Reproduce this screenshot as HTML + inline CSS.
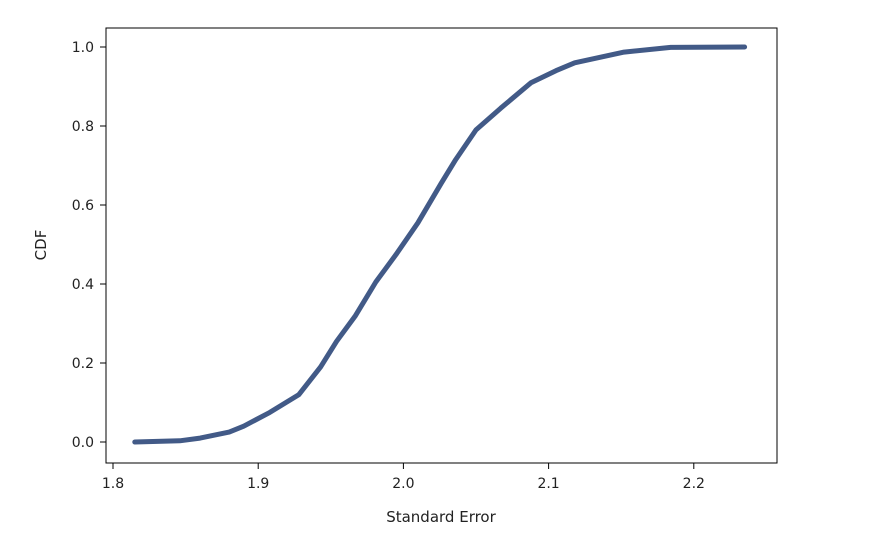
<!DOCTYPE html>
<html><head><meta charset="utf-8"><style>
html,body{margin:0;padding:0;background:#fff;}
svg{display:block;font-family:"DejaVu Sans","Liberation Sans",sans-serif;}
</style></head><body>
<svg id="chart" width="882" height="544">
<rect x="106" y="28" width="671" height="435" fill="none" stroke="#000" stroke-width="1"/>
<g id="xt"></g><g id="yt"></g>
<path id="curve" fill="none" stroke="#425a87" stroke-width="5" stroke-linejoin="round" stroke-linecap="round"/>
<text x="441" y="522" text-anchor="middle" font-size="15" fill="#222">Standard Error</text>
<text x="46" y="245" text-anchor="middle" font-size="15" fill="#222" transform="rotate(-90 46 245)">CDF</text>
</svg>
<script>
const xVals=[1.815,1.846,1.86,1.88,1.89,1.908,1.928,1.943,1.954,1.967,1.981,1.995,2.01,2.026,2.036,2.05,2.067,2.088,2.105,2.118,2.152,2.184,2.235];
const yVals=[0,0.003,0.01,0.025,0.04,0.075,0.12,0.19,0.255,0.32,0.405,0.475,0.555,0.655,0.715,0.79,0.845,0.91,0.94,0.96,0.987,0.999,1.0];
const xTicks=[1.8,1.9,2.0,2.1,2.2];
const yTicks=[0,0.2,0.4,0.6,0.8,1.0];
const sx=v=>113+(v-1.8)*1452;
const sy=v=>442-v*395;
const NS="http://www.w3.org/2000/svg";
let d="";
xVals.forEach((x,i)=>{d+=(i?"L":"M")+sx(x).toFixed(1)+","+sy(yVals[i]).toFixed(1);});
document.getElementById("curve").setAttribute("d",d);
const xt=document.getElementById("xt"),yt=document.getElementById("yt");
xTicks.forEach(t=>{
 const l=document.createElementNS(NS,"line");
 l.setAttribute("x1",sx(t));l.setAttribute("x2",sx(t));l.setAttribute("y1",463);l.setAttribute("y2",469);l.setAttribute("stroke","#000");
 
 
 xt.appendChild(l);
 const tx=document.createElementNS(NS,"text");
 tx.setAttribute("x",sx(t));tx.setAttribute("y",488);tx.setAttribute("text-anchor","middle");tx.setAttribute("font-size","14");tx.setAttribute("fill","#222");
 tx.textContent=t.toFixed(1);
 
 
 xt.appendChild(tx);
});
yTicks.forEach(t=>{
 const l=document.createElementNS(NS,"line");
 l.setAttribute("x1",100);l.setAttribute("x2",106);l.setAttribute("y1",sy(t));l.setAttribute("y2",sy(t));l.setAttribute("stroke","#000");
 
 
 yt.appendChild(l);
 const tx=document.createElementNS(NS,"text");
 tx.setAttribute("x",94);tx.setAttribute("y",sy(t)+5);tx.setAttribute("text-anchor","end");tx.setAttribute("font-size","14");tx.setAttribute("fill","#222");
 tx.textContent=t.toFixed(1);
 
 
 yt.appendChild(tx);
});
</script>
</body></html>
